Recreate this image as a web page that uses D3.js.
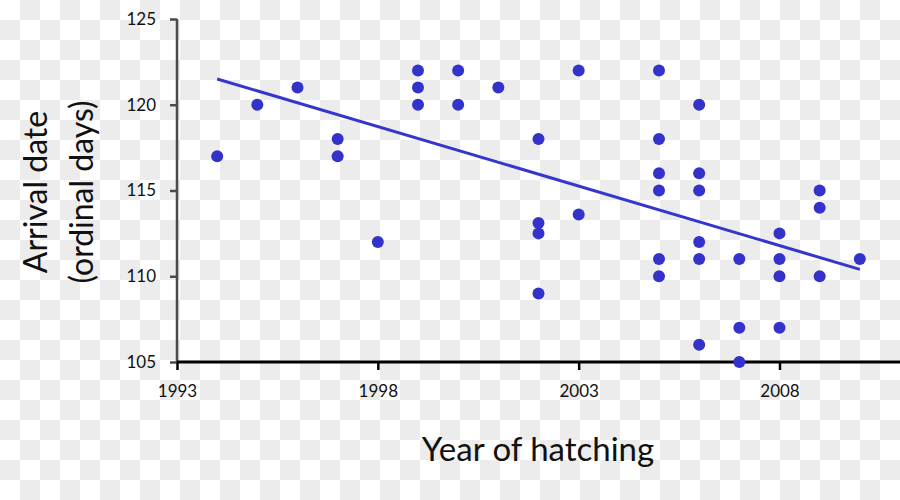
<!DOCTYPE html>
<html>
<head>
<meta charset="utf-8">
<script src="https://cdn.jsdelivr.net/npm/d3@7"></script>
<style>
	body { margin: 0; }
	text { font-family: Lato, 'Open Sans', sans-serif; }
</style>
</head>
<body>
<div id="chart"></div>
<script>
// one entry per bird
var years = [
	1994, 1995, 1996, 1997, 1997, 1998, 1999, 1999, 1999, 2000, 2000, 2001,
	2002, 2002, 2002, 2002, 2003, 2003,
	2005, 2005, 2005, 2005, 2005, 2005,
	2006, 2006, 2006, 2006, 2006, 2006,
	2007, 2007, 2007,
	2008, 2008, 2008, 2008,
	2009, 2009, 2009, 2010
];
var arrivals = [
	117, 120, 121, 118, 117, 112, 122, 121, 120, 122, 120, 121,
	118, 113.1, 112.5, 109, 122, 113.6,
	122, 118, 116, 115, 111, 110,
	120, 116, 115, 112, 111, 106,
	111, 107, 105,
	112.5, 111, 110, 107,
	115, 114, 110, 111
];

// fitted line end points
var trend_years = [1994, 2010];
var trend_values = [121.5, 110.4];

var x_ticks = [1993, 1998, 2003, 2008];
var y_ticks = [105, 110, 115, 120, 125];

var chart_width = 900;
var chart_height = 500;

var data = years.map(function(y, i){
	return { year: y, day: arrivals[i] };
});

var svg = d3.select('#chart')
	.append('svg')
	.attr('width', chart_width)
	.attr('height', chart_height);

// checkerboard background (20px squares)
var cells = [];
d3.range(0, chart_height / 20).forEach(function(r){
	d3.range(0, chart_width / 20).forEach(function(c){
		if ((r + c) % 2 === 1) cells.push([c, r]);
	});
});
svg.append('rect')
	.attr('width', chart_width)
	.attr('height', chart_height)
	.attr('fill', '#ffffff');
svg.append('g')
	.selectAll('rect')
	.data(cells)
	.enter()
	.append('rect')
	.attr('x', function(d){ return d[0] * 20; })
	.attr('y', function(d){ return d[1] * 20; })
	.attr('width', 20)
	.attr('height', 20)
	.attr('fill', '#ececec');

// scales
var x_scale = d3.scaleLinear()
	.domain([1993, 2011])
	.range([177, 900]);

var y_scale = d3.scaleLinear()
	.domain([105, 125])
	.range([362, 19]);

// y axis
var y_axis = d3.axisLeft(y_scale)
	.tickValues(y_ticks)
	.tickSize(7)
	.tickPadding(14);

var yg = svg.append('g')
	.attr('transform', 'translate(177, 0)')
	.call(y_axis);
yg.select('.domain').attr('stroke', '#4a4a4a').attr('stroke-width', 2.5).attr('d', 'M0,' + y_scale(125) + 'V' + y_scale(105));
yg.selectAll('.tick line').attr('stroke', '#4a4a4a').attr('stroke-width', 2.5);
yg.selectAll('.tick text').attr('font-size', 17).attr('fill', '#111');

// x axis
var x_axis = d3.axisBottom(x_scale)
	.tickValues(x_ticks)
	.tickFormat(d3.format('d'))
	.tickSize(8)
	.tickPadding(15);

var xg = svg.append('g')
	.attr('transform', 'translate(0,' + y_scale(105) + ')')
	.call(x_axis);
xg.select('.domain').attr('stroke', '#000').attr('stroke-width', 3).attr('d', 'M177,0H900');
xg.selectAll('.tick line').attr('stroke', '#000').attr('stroke-width', 2.5);
xg.selectAll('.tick text').attr('font-size', 17).attr('fill', '#111');

// regression line
svg.append('line')
	.attr('x1', x_scale(trend_years[0]))
	.attr('y1', y_scale(trend_values[0]))
	.attr('x2', x_scale(trend_years[1]))
	.attr('y2', y_scale(trend_values[1]))
	.attr('stroke', '#3636cc')
	.attr('stroke-width', 3);

// points
svg.selectAll('circle.pt')
	.data(data)
	.enter()
	.append('circle')
	.attr('class', 'pt')
	.attr('cx', function(d){ return x_scale(d.year); })
	.attr('cy', function(d){ return y_scale(d.day); })
	.attr('r', 6)
	.attr('fill', '#3333cc');

// axis titles
svg.append('text')
	.attr('x', 538)
	.attr('y', 461)
	.attr('text-anchor', 'middle')
	.attr('font-size', 33)
	.attr('fill', '#111')
	.text('Year of hatching');

var yt = svg.append('text')
	.attr('transform', 'translate(47, 192) rotate(-90)')
	.attr('text-anchor', 'middle')
	.attr('font-size', 32)
	.attr('fill', '#111');
yt.append('tspan').attr('x', 0).attr('dy', 0).text('Arrival date');
yt.append('tspan').attr('x', 0).attr('dy', 46).text('(ordinal days)');
</script>
</body>
</html>
